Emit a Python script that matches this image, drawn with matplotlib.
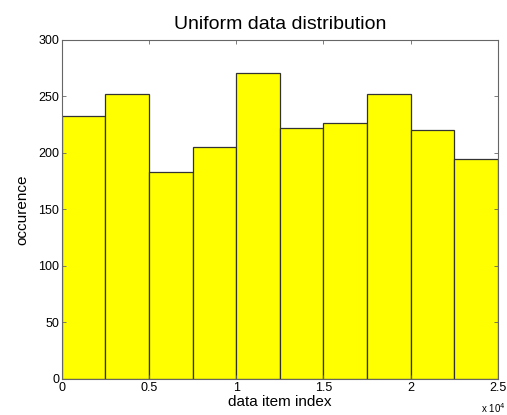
import matplotlib.pyplot as plt
import numpy as np

plt.rcParams['font.family'] = ['Liberation Sans', 'DejaVu Sans']

# histogram of data item indices, 10 bins over 0..25000
bin_edges = np.linspace(0, 25000, 11)
counts = [233, 252, 183, 205, 271, 222, 226, 252, 220, 195]
xtick_vals = [0, 5000, 10000, 15000, 20000, 25000]
xtick_labels = ["0", "0.5", "1", "1.5", "2", "2.5"]
ytick_vals = [0, 50, 100, 150, 200, 250, 300]

fig = plt.figure(figsize=(5.07, 4.15), dpi=100)
ax = fig.add_axes([0.122, 0.087, 0.860, 0.817])

ax.bar(bin_edges[:-1], counts, width=np.diff(bin_edges), align="edge",
       color="#ffff00", edgecolor="#333333", linewidth=0.9)

ax.set_xlim(0, 25000)
ax.set_ylim(0, 300)
ax.set_xticks(xtick_vals)
ax.set_xticklabels(xtick_labels)
ax.set_yticks(ytick_vals)

ax.tick_params(direction="in", length=3, width=0.6, top=True, right=True,
               labelsize=9, pad=2, color="#666666")
for s in ax.spines.values():
    s.set_color("#666666")
    s.set_linewidth(0.8)

ax.set_title("Uniform data distribution", fontsize=14, pad=8)
ax.set_xlabel("data item index", fontsize=11, labelpad=1)
ax.set_ylabel("occurence", fontsize=11, labelpad=6)
ax.text(0.99, -0.085, r"x 10$^4$", transform=ax.transAxes, fontsize=7,
        ha="center", va="center")

fig.savefig("out.png", dpi=100)
